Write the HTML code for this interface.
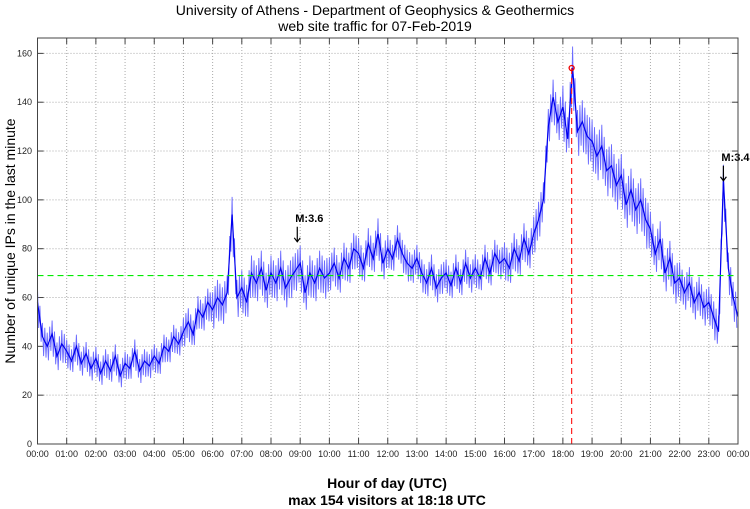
<!DOCTYPE html>
<html><head><meta charset="utf-8"><style>
body{margin:0;background:#fff}
svg{display:block;font-family:"Liberation Sans",sans-serif}
</style></head><body>
<svg id="c" width="750" height="509"></svg>
<script>
const hourLabels=["00:00","01:00","02:00","03:00","04:00","05:00","06:00","07:00","08:00","09:00","10:00","11:00","12:00","13:00","14:00","15:00","16:00","17:00","18:00","19:00","20:00","21:00","22:00","23:00","00:00"];
const yTicks=[0,20,40,60,80,100,120,140,160];
// visitors sampled every 10 minutes
const visitors=[58,44,40,45,36,41, 38,34,40,33,37,31, 35,29,34,30,36,28, 33,31,38,30,34,32,
36,33,40,38,44,41, 46,50,45,55,52,58, 55,60,57,62,94,60, 64,58,70,66,72,63,
70,66,72,64,68,71, 74,62,70,66,72,68, 70,74,68,76,72,80, 78,72,82,76,86,74,
80,76,84,78,74,72, 76,70,66,72,64,68, 70,65,72,66,74,68, 72,68,76,70,78,74,
76,72,80,75,84,78, 86,92,100,130,142,132, 138,125,154,128,132,126, 124,118,122,112,114,106,
110,98,104,96,100,92, 88,78,84,70,76,66, 68,62,66,58,62,56, 58,52,46,108,72,60, 52];
// per-hour half-range of the minute-to-minute fluctuation
const spread=[7,6,6,6,6,7,9,9,9,9,8,8,7,7,7,7,8,9,11,11,11,9,8,8];
const meanLevel=[69];
const peak=[18.3,154];
const quakes=[{h:8.9,v:82,label:"M:3.6"},{h:23.5,v:107,label:"M:3.4"}];
const L=37.5,R=738,T=38,B=444,ymax=166.3;
const xs=h=>L+(R-L)*h/24, ys=v=>B-(B-T)*v/ymax;
const svg=document.getElementById('c');const NS='http://www.w3.org/2000/svg';
function mk(t,a,txt){const e=document.createElementNS(NS,t);for(const k in a)e.setAttribute(k,a[k]);if(txt!=null)e.textContent=txt;svg.appendChild(e);return e;}
let g;
hourLabels.forEach((lb,i)=>{const x=xs(i);
 if(i>0&&i<24){g=mk('line',{x1:x,x2:x,y1:T,y2:B,stroke:'#aaa','stroke-dasharray':'1,2'});
 mk('line',{x1:x,x2:x,y1:B,y2:B-6,stroke:'#444'});mk('line',{x1:x,x2:x,y1:T,y2:T+6,stroke:'#444'});}
 g=mk('text',{x:x,y:457,'font-size':9,'text-anchor':'middle',fill:'#222'},lb);});
yTicks.forEach(v=>{const y=ys(v);
 if(v>0){g=mk('line',{x1:L,x2:R,y1:y,y2:y,stroke:'#aaa','stroke-dasharray':'1,2'});
 mk('line',{x1:L,x2:L+6,y1:y,y2:y,stroke:'#444'});mk('line',{x1:R,x2:R-6,y1:y,y2:y,stroke:'#444'});}
 g=mk('text',{x:32,y:y+3,'font-size':9,'text-anchor':'end',fill:'#222'},v);});
// fluctuation zigzag around each sample
const zz=[];
visitors.forEach((v,i)=>{if(i>=visitors.length-1)return;const s=spread[Math.floor(i/6)];
 const n=visitors[i+1];
 for(let k=0;k<4;k++){const f=k/4;const base=v+(n-v)*f;const off=(k%2?-1:1)*s*(k===1?1:0.8);
  zz.push(xs((i+f)/6).toFixed(1)+','+ys(Math.max(0,base+off)).toFixed(1));}});
g=mk('polyline',{points:zz.join(' '),fill:'none',stroke:'#6a6aff','stroke-width':0.9});
const pts=visitors.map((v,i)=>xs(i/6).toFixed(1)+','+ys(v).toFixed(1)).join(' ');
g=mk('polyline',{points:pts,fill:'none',stroke:'#0000ee','stroke-width':1.2});
g=mk('line',{x1:L,x2:R,y1:ys(meanLevel[0]),y2:ys(meanLevel[0]),stroke:'#00ee00','stroke-width':1.2,'stroke-dasharray':'6,4'});
g=mk('line',{x1:xs(peak[0]),x2:xs(peak[0]),y1:ys(peak[1]),y2:B,stroke:'#ff2222','stroke-width':1.2,'stroke-dasharray':'6,4'});
g=mk('circle',{cx:xs(peak[0]),cy:ys(peak[1]),r:2.5,fill:'none',stroke:'#ee0000','stroke-width':1.3});
quakes.forEach(q=>{const x=xs(q.h),y=ys(q.v);
 g=mk('text',{x:x-2,y:y-22,'font-size':11,'font-weight':'bold',fill:'#000'},q.label);
 g=mk('path',{d:`M${x},${y-17}V${y-3}M${x-3},${y-6}L${x},${y-2}L${x+3},${y-6}`,stroke:'#000',fill:'none','stroke-width':1.2});});
g=mk('rect',{x:L,y:T,width:R-L,height:B-T,fill:'none',stroke:'#444'});
g=mk('text',{x:375,y:15,'font-size':14,'text-anchor':'middle'},'University of Athens - Department of Geophysics & Geothermics');
g=mk('text',{x:375,y:31,'font-size':14,'text-anchor':'middle'},'web site traffic for 07-Feb-2019');
g=mk('text',{x:387,y:488,'font-size':14,'text-anchor':'middle','font-weight':'bold'},'Hour of day (UTC)');
g=mk('text',{x:387,y:505,'font-size':14,'text-anchor':'middle','font-weight':'bold'},'max 154 visitors at 18:18 UTC');
g=mk('text',{x:0,y:0,'font-size':14,'text-anchor':'middle',transform:'translate(15,241) rotate(-90)'},'Number of unique IPs in the last minute');
</script>
</body></html>
